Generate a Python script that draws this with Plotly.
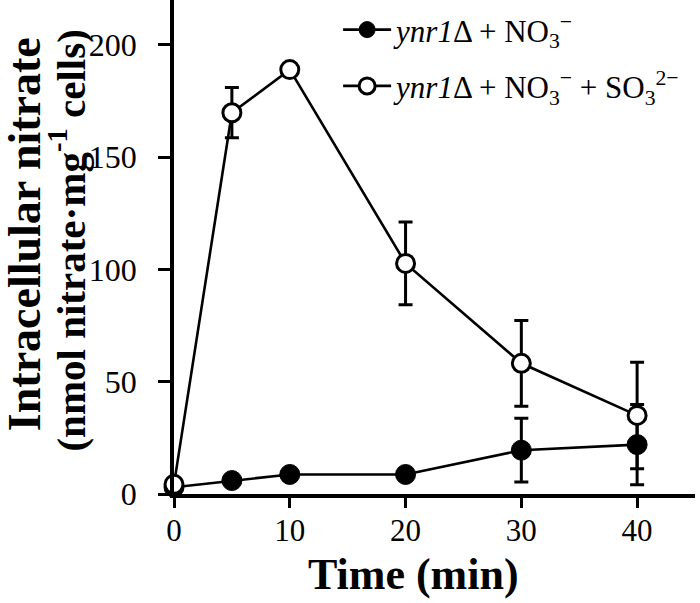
import plotly.graph_objects as go

time_min = [0, 5, 10, 20, 30, 40]

# ynr1Δ + NO3−  (closed circles)
no3_mean = [3, 6, 8.7, 8.7, 19.5, 22]
no3_err = [0, 0, 0, 0, 14.2, 17.9]

# ynr1Δ + NO3− + SO3 2−  (open circles)
so3_mean = [4.3, 169.8, 189, 102.7, 58.2, 35]
so3_err = [0, 11.2, 0, 18.4, 19.1, 23.7]

x_ticks = [0, 10, 20, 30, 40]
y_ticks = [0, 50, 100, 150, 200]

name_no3 = "<i>ynr1</i>Δ + NO<sub>3</sub><sup>−</sup>"
name_so3 = "<i>ynr1</i>Δ + NO<sub>3</sub><sup>−</sup> + SO<sub>3</sub><sup>2−</sup>"

FONT = "Liberation Serif, Times New Roman, serif"

fig = go.Figure()
fig.add_trace(go.Scatter(
    x=time_min, y=no3_mean, name=name_no3, mode="lines+markers",
    line=dict(color="black", width=2.6),
    marker=dict(symbol="circle", size=20, color="black", line=dict(color="black", width=1)),
    error_y=dict(type="data", array=no3_err, visible=True, color="black", thickness=3, width=7),
    cliponaxis=False, legendgroup="a",
))
fig.add_trace(go.Scatter(
    x=time_min, y=so3_mean, name=name_so3, mode="lines+markers",
    line=dict(color="black", width=2.6),
    marker=dict(symbol="circle", size=18, color="white", line=dict(color="black", width=3)),
    error_y=dict(type="data", array=so3_err, visible=True, color="black", thickness=3, width=7),
    cliponaxis=False, legendgroup="b",
))

fig.update_layout(
    width=700, height=603,
    margin=dict(l=174, r=5, t=0, b=108.5, autoexpand=False),
    paper_bgcolor="white", plot_bgcolor="white",
    font=dict(family=FONT, color="black", size=31),
    showlegend=True,
    legend=dict(x=0.315, y=0.994, xanchor="left", yanchor="top",
                font=dict(family=FONT, size=31, color="black"),
                bgcolor="rgba(0,0,0,0)", itemwidth=48,
                traceorder="grouped", tracegroupgap=13),
    xaxis=dict(range=[0, 45], tickvals=x_ticks, showline=True, linewidth=3.5, linecolor="black",
               ticks="outside", ticklen=10, tickwidth=3, tickcolor="black",
               showgrid=False, zeroline=False, tickfont=dict(size=31), ticklabelstandoff=-4),
    yaxis=dict(range=[0, 220], tickvals=y_ticks, showline=True, linewidth=3.5, linecolor="black",
               ticks="outside", ticklen=12, tickwidth=3, tickcolor="black",
               showgrid=False, zeroline=False, tickfont=dict(size=32), ticklabelstandoff=15),
    annotations=[
        dict(text="<b>Time (min)</b>", xref="paper", yref="paper", x=0.459, y=-0.2174,
             xanchor="center", yanchor="bottom", showarrow=False,
             font=dict(family=FONT, size=44, color="black")),
        dict(text="<b>Intracellular nitrate</b>",
             xref="paper", yref="paper", x=(24 - 174) / 521, y=0.526, textangle=-90,
             xanchor="center", yanchor="middle", showarrow=False,
             font=dict(family=FONT, size=46, color="black")),
        dict(text="<b>(nmol nitrate·mg<sup>-1</sup> cells)</b>",
             xref="paper", yref="paper", x=(67 - 174) / 521, y=0.513, textangle=-90,
             xanchor="center", yanchor="middle", showarrow=False,
             font=dict(family=FONT, size=41, color="black")),
    ],
)

fig.write_html("out.html", config={"displayModeBar": False},
               post_script="document.body.style.margin='0';document.body.style.overflow='hidden';")
